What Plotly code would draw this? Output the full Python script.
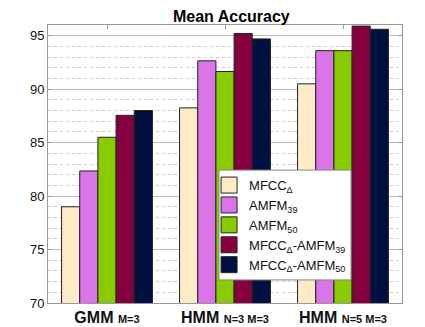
import plotly.graph_objects as go

categories = ["<b>GMM</b> <span style='font-size:11px'><b>M=3</b></span>",
              "<b>HMM</b> <span style='font-size:11px'><b>N=3 M=3</b></span>",
              "<b>HMM</b> <span style='font-size:11px'><b>N=5 M=3</b></span>"]
series_names = ["MFCC<sub>Δ</sub>", "AMFM<sub>39</sub>", "AMFM<sub>50</sub>",
                "MFCC<sub>Δ</sub>-AMFM<sub>39</sub>", "MFCC<sub>Δ</sub>-AMFM<sub>50</sub>"]
mfcc = [79.0, 88.25, 90.5]
amfm39 = [82.35, 92.65, 93.6]
amfm50 = [85.5, 91.65, 93.6]
mfcc_amfm39 = [87.55, 95.2, 95.9]
mfcc_amfm50 = [88.0, 94.7, 95.6]
colors = ["#FDEBC8", "#DA75E8", "#88CB00", "#860040", "#001040"]

values = [mfcc, amfm39, amfm50, mfcc_amfm39, mfcc_amfm50]

fig = go.Figure()
for name, vals, c in zip(series_names, values, colors):
    fig.add_trace(go.Bar(x=categories, y=vals, name=name, showlegend=False,
                         marker=dict(color=c, line=dict(color="#222", width=1))))
# legend-only entries with larger swatches
for name, c in zip(series_names, colors):
    fig.add_trace(go.Scatter(x=[None], y=[None], mode="markers", name=name,
                             marker=dict(symbol="square", size=16, color=c,
                                         line=dict(color="#222", width=1))))

fig.update_layout(
    template="none",
    width=425, height=327,
    margin=dict(l=48, r=23, t=25, b=24, autoexpand=False),
    paper_bgcolor="white", plot_bgcolor="white",
    barmode="group", bargap=0.23, bargroupgap=0,
    font=dict(family="Liberation Sans, Arial, sans-serif", size=13, color="#111"),
    title=dict(text="<b>Mean Accuracy</b>", x=0.518, xanchor="center", xref="paper",
               y=0.9495, yanchor="middle", font=dict(size=16, color="#000")),
    showlegend=True,
    legend=dict(x=0.455, y=0.478, xanchor="left", yanchor="top", bgcolor="rgba(0,0,0,0)",
                bordercolor="rgba(0,0,0,0)", borderwidth=0, font=dict(size=13, color="#111"),
                tracegroupgap=0, itemsizing="trace"),
    shapes=[dict(type="rect", xref="paper", yref="paper", x0=0.483, x1=0.856, y0=0.083, y1=0.478,
                 fillcolor="white", line=dict(color="#888", width=1), layer="above")],
)
fig.update_xaxes(range=[-0.5, 2.5], showline=True, mirror="ticks", linecolor="#999", linewidth=1,
                 ticks="inside", ticklen=4, tickcolor="#999", showgrid=False, automargin=False,
                 zeroline=False, tickfont=dict(size=16, color="#111"))
fig.update_yaxes(range=[70, 96], dtick=5, showline=True, mirror="ticks", linecolor="#999", linewidth=1,
                 ticks="inside", ticklen=4, tickcolor="#999", showgrid=True, gridcolor="#bbb",
                 gridwidth=1, zeroline=False, automargin=False, tickfont=dict(size=13, color="#111"),
                 minor=dict(dtick=1, showgrid=True, griddash="dot", gridcolor="#ccc", ticks=""))
fig.write_html("out.html", config={"displayModeBar": False},
               post_script="document.body.style.margin='0';document.body.style.overflow='hidden';")
